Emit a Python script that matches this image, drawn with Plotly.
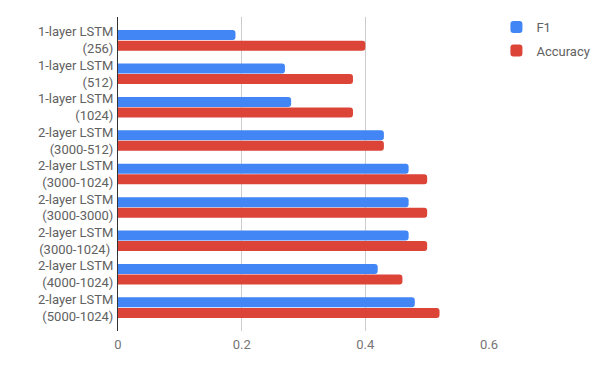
import plotly.graph_objects as go

# model configurations (two-line labels as drawn)
models = [
    "1-layer LSTM<br>(256)",
    "1-layer LSTM<br>(512)",
    "1-layer LSTM<br>(1024)",
    "2-layer LSTM<br>(3000-512)",
    "2-layer LSTM<br>(3000-1024)",
    "2-layer LSTM<br>(3000-3000)",
    "2-layer LSTM<br>(3000-1024) ",
    "2-layer LSTM<br>(4000-1024)",
    "2-layer LSTM<br>(5000-1024)",
]
f1_scores = [0.19, 0.27, 0.28, 0.43, 0.47, 0.47, 0.47, 0.42, 0.48]
accuracy = [0.40, 0.38, 0.38, 0.43, 0.50, 0.50, 0.50, 0.46, 0.52]
x_ticks = [0, 0.2, 0.4, 0.6]

fig = go.Figure()
fig.add_trace(go.Bar(y=models, x=f1_scores, orientation="h", name="F1",
                     marker=dict(color="#4285F4", line=dict(width=0)),
                     legend="legend"))
fig.add_trace(go.Bar(y=models, x=accuracy, orientation="h", name="Accuracy",
                     marker=dict(color="#DB4437", line=dict(width=0)),
                     legend="legend2"))

legend_style = dict(xanchor="left", yanchor="middle", bgcolor="rgba(0,0,0,0)",
                    font=dict(size=13, color="#616161"), itemwidth=30)

fig.update_layout(
    width=600, height=371,
    barmode="group",
    bargap=0.37,
    bargroupgap=0.05,
    barcornerradius=3,
    plot_bgcolor="white",
    paper_bgcolor="white",
    font=dict(family="Roboto, Arial, sans-serif", size=13, color="#757575"),
    margin=dict(l=118, r=111, t=17, b=40, autoexpand=False),
    legend=dict(x=1.02, y=0.968, **legend_style),
    legend2=dict(x=1.02, y=0.893, **legend_style),
    showlegend=True,
)
fig.update_xaxes(range=[0, 0.6], tickvals=x_ticks, ticktext=["0", "0.2", "0.4", "0.6"],
                 showgrid=True, gridcolor="#cccccc", gridwidth=1, zeroline=False,
                 ticks="", automargin=False, ticklabelstandoff=4,
                 tickfont=dict(size=13, color="#757575"))
fig.update_yaxes(range=[8.7, -0.7], showline=True, linecolor="#333333", linewidth=1,
                 ticks="", showgrid=False, automargin=False, ticklabelstandoff=1,
                 tickfont=dict(size=13, color="#616161"))

# drop the browser's default page margin so the chart sits at the window corner
fig.write_html("out.html", config={"displayModeBar": False},
               post_script="document.body.style.margin='0px';")
